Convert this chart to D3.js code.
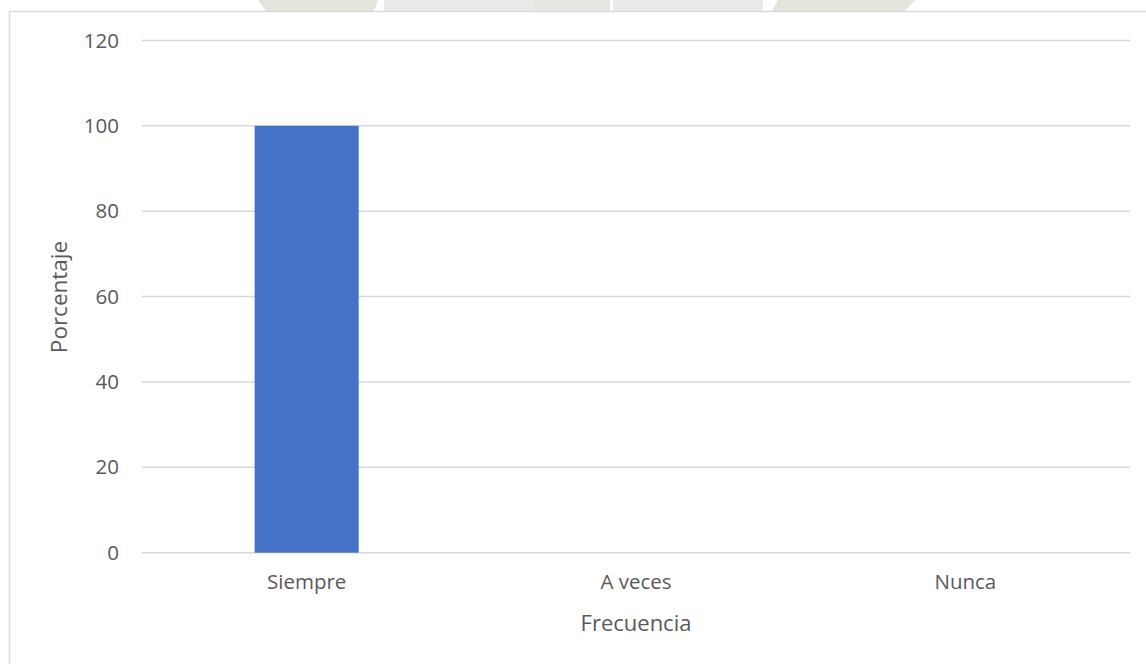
<!DOCTYPE html>
<html><head><meta charset="utf-8">
<script src="https://cdn.jsdelivr.net/npm/d3@7"></script>
<style>
html,body{margin:0;padding:0;background:#fff;}
svg{display:block;font-family:"Open Sans",sans-serif;}
</style></head>
<body><svg id="c" width="1146" height="664"></svg>
<script>
const categories = ["Siempre", "A veces", "Nunca"];
const values = [100, 0, 0];
const yTicks = [0, 20, 40, 60, 80, 100, 120];
const xTitle = "Frecuencia";
const yTitle = "Porcentaje";

const svg = d3.select("#c");

// faint watermark fragments above the chart box
const wm = svg.append("g");
wm.append("polygon").attr("points","258,0 378,0 374,11 266,11").attr("fill","#e1e5dc");
wm.append("rect").attr("x",384).attr("y",0).attr("width",150).attr("height",11).attr("fill","#eaebe8");
wm.append("rect").attr("x",534).attr("y",0).attr("width",76).attr("height",11).attr("fill","#e4e7e1");
wm.append("rect").attr("x",613).attr("y",0).attr("width",150).attr("height",11).attr("fill","#eaebe8");
wm.append("polygon").attr("points","778,0 915,0 905,11 772,11").attr("fill","#e1e5dc");

// chart border
svg.append("path").attr("d","M9.5,670 V11.5 H1150").attr("fill","none").attr("stroke","#d9d9d9").attr("stroke-width",1.5);

const x = d3.scaleBand().domain(categories).range([142, 1130]).paddingInner(0.684).paddingOuter(0.342);
const y = d3.scaleLinear().domain([0, 120]).range([552.7, 40.5]);

// gridlines
svg.append("g").selectAll("line").data(yTicks).join("line")
  .attr("x1",142).attr("x2",1130)
  .attr("y1",d=>y(d)).attr("y2",d=>y(d))
  .attr("stroke","#d9d9d9").attr("stroke-width",1.5);

// y axis labels
const yAxis = d3.axisLeft(y).tickValues(yTicks).tickSize(0).tickPadding(0);
const yg = svg.append("g").attr("transform","translate(119,0)").call(yAxis);
yg.select(".domain").remove();
yg.selectAll("text").attr("font-size",20.5).attr("fill","#595959").attr("font-family","Open Sans");

// bars
svg.append("g").selectAll("rect").data(categories.map((c,i)=>({c,v:values[i]}))).join("rect")
  .attr("x",d=>x(d.c)).attr("width",x.bandwidth())
  .attr("y",d=>y(d.v)).attr("height",d=>y(0)-y(d.v))
  .attr("fill","#4472c4");

// x axis labels
const xAxis = d3.axisBottom(x).tickSize(0).tickPadding(0);
const xg = svg.append("g").attr("transform","translate(0,574)").call(xAxis);
xg.select(".domain").remove();
xg.selectAll("text").attr("font-size",20.5).attr("fill","#595959").attr("font-family","Open Sans");

// titles
svg.append("text").attr("x",636).attr("y",631).attr("text-anchor","middle")
  .attr("font-size",22).attr("fill","#595959").text(xTitle);
svg.append("text").attr("transform","translate(67,297) rotate(-90)").attr("text-anchor","middle")
  .attr("font-size",22.5).attr("fill","#595959").text(yTitle);
</script></body></html>
